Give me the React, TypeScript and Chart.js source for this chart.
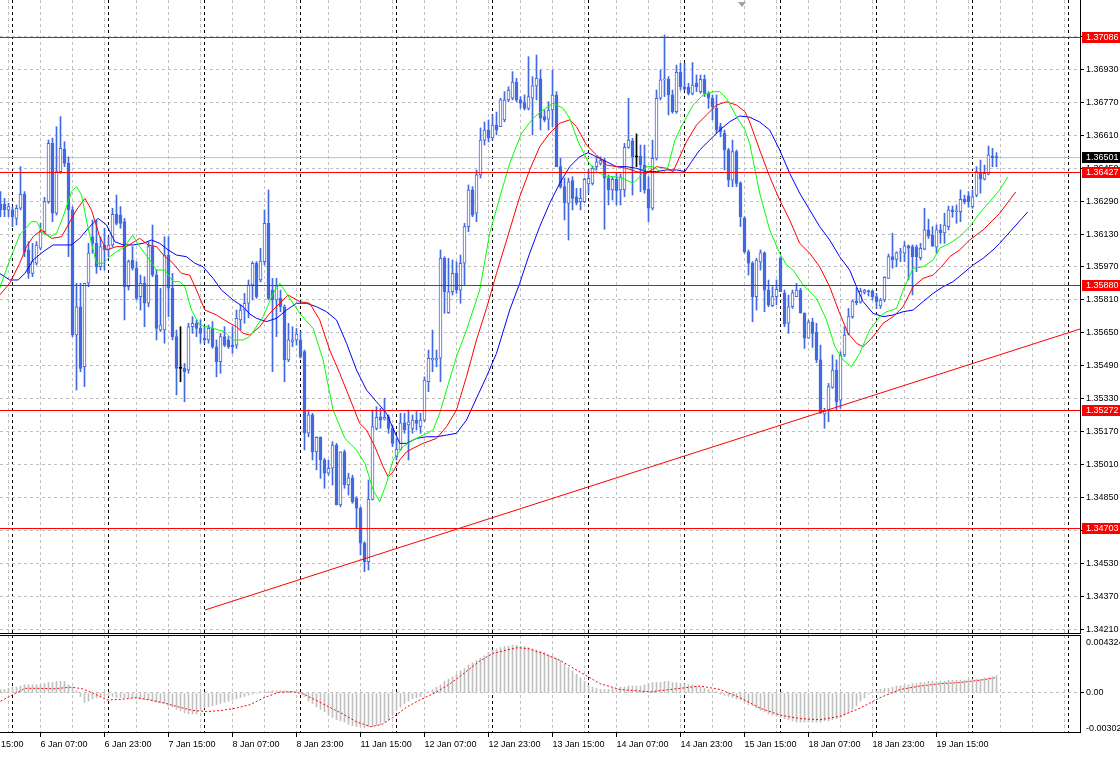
import React, { useEffect, useRef } from 'react';
import { Chart, registerables } from 'chart.js';
Chart.register(...registerables);

// ---------- DATA (H1 bars, index 0 = 5 Jan 21:00) ----------
const opens = [1.36274,1.36274,1.36247,1.36247,1.36206,1.36255,1.36323,1.36053,1.35939,1.35988,
1.36061,1.36141,1.36287,1.36570,1.36231,1.36433,1.36541,1.36473,1.36247,1.35640,
1.35777,1.35486,1.35891,1.36117,1.36085,1.35971,1.36077,1.36053,1.36077,1.36226,
1.36222,1.36190,1.35874,1.36004,1.35964,1.35826,1.35891,1.35794,1.36069,1.35931,
1.35664,1.35664,1.36028,1.35867,1.35632,1.35478,1.35478,1.35470,1.35680,1.35697,
1.35672,1.35624,1.35616,1.35672,1.35583,1.35510,1.35632,1.35616,1.35591,1.35591,
1.35713,1.35761,1.35794,1.35883,1.35988,1.35907,1.35996,1.36182,1.35858,1.35810,
1.35818,1.35777,1.35519,1.35607,1.35616,1.35616,1.35559,1.35163,1.35252,1.35073,
1.35143,1.35033,1.34969,1.34993,1.35106,1.34815,1.35073,1.34912,1.34947,1.34847,
1.34799,1.34629,1.34540,1.34842,1.35187,1.35243,1.35231,1.35243,1.35187,1.35049,
1.35085,1.35214,1.35203,1.35187,1.35227,1.35195,1.35227,1.35413,1.35519,1.35519,
1.35527,1.36012,1.35748,1.35850,1.35939,1.35858,1.35988,1.36166,1.36344,1.36231,
1.36417,1.36586,1.36635,1.36596,1.36659,1.36651,1.36684,1.36781,1.36789,1.36867,
1.36781,1.36768,1.36740,1.36789,1.36849,1.36883,1.36700,1.36687,1.36732,1.36805,
1.36457,1.36360,1.36279,1.36389,1.36311,1.36287,1.36287,1.36373,1.36376,1.36457,
1.36473,1.36486,1.36401,1.36344,1.36396,1.36344,1.36344,1.36551,1.36582,1.36505,
1.36509,1.36465,1.36347,1.36255,1.36498,1.36789,1.36878,1.36881,1.36805,1.36724,
1.36915,1.36845,1.36842,1.36813,1.36862,1.36821,1.36881,1.36813,1.36789,1.36740,
1.36651,1.36619,1.36538,1.36392,1.36530,1.36376,1.36208,1.36044,1.35988,1.35826,
1.35994,1.36039,1.35858,1.35782,1.35826,1.36012,1.35845,1.35697,1.35777,1.35826,
1.35858,1.35745,1.35624,1.35703,1.35653,1.35519,1.35256,1.35272,1.35386,1.35470,
1.35324,1.35543,1.35648,1.35729,1.35805,1.35799,1.35847,1.35854,1.35854,1.35826,
1.35781,1.35810,1.35915,1.36020,1.36007,1.36039,1.36037,1.36073,1.36069,1.36066,
1.36015,1.36057,1.36150,1.36125,1.36066,1.36150,1.36136,1.36166,1.36247,1.36238,
1.36238,1.36299,1.36315,1.36263,1.36319,1.36425,1.36396,1.36421,1.36509,1.36505];

const highs = [1.36336,1.36303,1.36279,1.36263,1.36271,1.36457,1.36336,1.36093,1.36085,1.36093,
1.36182,1.36308,1.36586,1.36595,1.36651,1.36700,1.36578,1.36505,1.36263,1.35891,
1.35891,1.35891,1.36085,1.36198,1.36198,1.36117,1.36158,1.36117,1.36255,1.36319,
1.36263,1.36206,1.36004,1.36069,1.35996,1.35931,1.35923,1.36093,1.36174,1.35955,
1.35867,1.36117,1.36117,1.35939,1.35664,1.35680,1.35502,1.35697,1.35729,1.35713,
1.35713,1.35680,1.35688,1.35705,1.35616,1.35648,1.35680,1.35632,1.35680,1.35761,
1.35786,1.35842,1.35907,1.35996,1.35996,1.36061,1.36247,1.36344,1.35915,1.35915,
1.35858,1.35786,1.35697,1.35680,1.35672,1.35656,1.35567,1.35276,1.35260,1.35146,
1.35146,1.35041,1.35033,1.35122,1.35114,1.35073,1.35082,1.34969,1.34960,1.34855,
1.34806,1.34637,1.34936,1.35276,1.35292,1.35284,1.35333,1.35252,1.35203,1.35138,
1.35260,1.35260,1.35276,1.35252,1.35268,1.35260,1.35437,1.35567,1.35664,1.35567,
1.36053,1.36020,1.36012,1.36004,1.35996,1.36028,1.36182,1.36368,1.36360,1.36441,
1.36645,1.36674,1.36684,1.36708,1.36722,1.36789,1.36821,1.36845,1.36918,1.36886,
1.36797,1.36805,1.36991,1.36894,1.36999,1.36926,1.36732,1.36772,1.36926,1.36821,
1.36498,1.36401,1.36401,1.36408,1.36352,1.36352,1.36401,1.36441,1.36460,1.36505,
1.36505,1.36498,1.36417,1.36408,1.36425,1.36421,1.36570,1.36789,1.36595,1.36616,
1.36562,1.36562,1.36408,1.36586,1.36829,1.36926,1.37096,1.36894,1.36829,1.36950,
1.36959,1.36959,1.36862,1.36962,1.36902,1.36902,1.36902,1.36821,1.36805,1.36805,
1.36668,1.36635,1.36546,1.36586,1.36538,1.36384,1.36214,1.36053,1.35996,1.36012,
1.36053,1.36044,1.35907,1.35874,1.35907,1.36020,1.35858,1.35834,1.35858,1.35891,
1.35867,1.35748,1.35713,1.35721,1.35697,1.35591,1.35284,1.35405,1.35543,1.35519,
1.35559,1.35680,1.35769,1.35810,1.35867,1.35867,1.35862,1.35858,1.35858,1.35842,
1.35818,1.35923,1.36033,1.36134,1.36044,1.36061,1.36093,1.36077,1.36077,1.36077,
1.36085,1.36255,1.36202,1.36166,1.36174,1.36177,1.36231,1.36266,1.36266,1.36271,
1.36344,1.36319,1.36336,1.36344,1.36457,1.36489,1.36465,1.36557,1.36546,1.36525];

const lows = [1.36214,1.36214,1.36214,1.36166,1.36174,1.36247,1.36020,1.35915,1.35923,1.35980,
1.36053,1.36134,1.36279,1.36190,1.36222,1.36425,1.36457,1.36020,1.35632,1.35373,
1.35462,1.35389,1.35874,1.36037,1.35939,1.35955,1.35955,1.36020,1.36069,1.36174,
1.36158,1.35713,1.35858,1.35955,1.35810,1.35761,1.35680,1.35777,1.35923,1.35616,
1.35656,1.35600,1.35729,1.35616,1.35349,1.35413,1.35316,1.35454,1.35648,1.35632,
1.35600,1.35600,1.35600,1.35575,1.35437,1.35454,1.35583,1.35575,1.35551,1.35575,
1.35664,1.35697,1.35723,1.35810,1.35818,1.35897,1.35980,1.35810,1.35462,1.35632,
1.35753,1.35413,1.35510,1.35583,1.35591,1.35527,1.35082,1.35146,1.35033,1.34985,
1.34944,1.34896,1.34960,1.34912,1.34815,1.34806,1.34896,1.34863,1.34823,1.34702,
1.34572,1.34491,1.34499,1.34839,1.35179,1.35187,1.35227,1.35163,1.35098,1.35033,
1.35082,1.35163,1.35033,1.35163,1.35179,1.35163,1.35219,1.35365,1.35462,1.35486,
1.35413,1.35745,1.35745,1.35834,1.35842,1.35794,1.35883,1.36141,1.36214,1.36190,
1.36402,1.36562,1.36577,1.36586,1.36611,1.36651,1.36675,1.36772,1.36781,1.36772,
1.36740,1.36732,1.36732,1.36611,1.36781,1.36635,1.36675,1.36635,1.36651,1.36457,
1.36352,1.36198,1.36101,1.36247,1.36271,1.36247,1.36282,1.36328,1.36368,1.36441,
1.36465,1.36153,1.36271,1.36295,1.36271,1.36271,1.36311,1.36546,1.36319,1.36457,
1.36336,1.36328,1.36190,1.36247,1.36489,1.36781,1.36797,1.36708,1.36716,1.36716,
1.36829,1.36829,1.36805,1.36805,1.36821,1.36813,1.36797,1.36740,1.36684,1.36619,
1.36602,1.36441,1.36360,1.36360,1.36360,1.36166,1.36037,1.35931,1.35704,1.35761,
1.35955,1.35753,1.35777,1.35777,1.35786,1.35850,1.35680,1.35648,1.35769,1.35826,
1.35745,1.35575,1.35624,1.35580,1.35506,1.35260,1.35187,1.35219,1.35381,1.35276,
1.35284,1.35535,1.35640,1.35721,1.35786,1.35794,1.35839,1.35829,1.35810,1.35769,
1.35769,1.35802,1.35915,1.35964,1.35971,1.35996,1.35996,1.35907,1.35834,1.35947,
1.36004,1.36053,1.36109,1.36069,1.36037,1.36085,1.36085,1.36150,1.36211,1.36182,
1.36190,1.36276,1.36260,1.36255,1.36311,1.36328,1.36392,1.36417,1.36457,1.36457];

const closes = [1.36247,1.36247,1.36263,1.36214,1.36255,1.36323,1.36044,1.35939,1.35996,1.36077,
1.36141,1.36287,1.36570,1.36231,1.36433,1.36546,1.36473,1.36247,1.35640,1.35777,
1.35478,1.35891,1.36037,1.36085,1.35971,1.36069,1.36053,1.36077,1.36226,1.36182,
1.36182,1.35874,1.35996,1.35964,1.35818,1.35891,1.35794,1.36069,1.35931,1.35672,
1.35688,1.36028,1.35867,1.35632,1.35478,1.35478,1.35462,1.35680,1.35697,1.35672,
1.35648,1.35616,1.35672,1.35583,1.35510,1.35632,1.35591,1.35583,1.35583,1.35721,
1.35761,1.35794,1.35883,1.35988,1.35826,1.35999,1.36182,1.35818,1.35810,1.35878,
1.35777,1.35519,1.35616,1.35616,1.35645,1.35535,1.35163,1.35252,1.35073,1.35143,
1.35033,1.34969,1.34993,1.35106,1.34815,1.35073,1.34912,1.34947,1.34831,1.34799,
1.34629,1.34540,1.34842,1.35195,1.35240,1.35227,1.35240,1.35187,1.35114,1.35085,
1.35214,1.35179,1.35219,1.35227,1.35211,1.35227,1.35421,1.35527,1.35527,1.35527,
1.36012,1.35850,1.35850,1.35939,1.35858,1.35988,1.36166,1.36344,1.36222,1.36417,
1.36586,1.36635,1.36596,1.36659,1.36635,1.36781,1.36781,1.36829,1.36867,1.36781,
1.36765,1.36740,1.36797,1.36849,1.36886,1.36692,1.36684,1.36732,1.36805,1.36457,
1.36360,1.36282,1.36384,1.36303,1.36282,1.36303,1.36396,1.36401,1.36449,1.36481,
1.36486,1.36401,1.36344,1.36396,1.36340,1.36408,1.36551,1.36586,1.36505,1.36505,
1.36465,1.36344,1.36255,1.36498,1.36789,1.36878,1.36881,1.36805,1.36724,1.36915,
1.36845,1.36833,1.36813,1.36853,1.36845,1.36881,1.36813,1.36789,1.36748,1.36635,
1.36627,1.36538,1.36392,1.36530,1.36376,1.36214,1.36044,1.35988,1.35826,1.36004,
1.36039,1.35858,1.35786,1.35826,1.35862,1.35850,1.35692,1.35777,1.35845,1.35858,
1.35748,1.35624,1.35703,1.35648,1.35519,1.35260,1.35272,1.35389,1.35470,1.35316,
1.35543,1.35640,1.35729,1.35805,1.35797,1.35852,1.35858,1.35850,1.35826,1.35802,
1.35810,1.35920,1.36020,1.36004,1.36039,1.36043,1.36072,1.36061,1.36020,1.36020,
1.36061,1.36150,1.36120,1.36072,1.36150,1.36136,1.36174,1.36247,1.36238,1.36243,
1.36299,1.36287,1.36287,1.36311,1.36433,1.36396,1.36425,1.36514,1.36501,1.36501];

// Alligator lines [bar index, price]
const lips: number[][] = [[-0.2,1.35867],[2.3,1.36004],[4.8,1.36125],[7.75,1.36190],[9,1.36190],[10.65,1.36134],[12.3,1.36117],[14,1.36134],[15.65,1.36214],[17.75,1.36336],[19,1.36360],[20.25,1.36319],[21.65,1.36182],[22.75,1.36085],[24,1.35988],[25.65,1.35988],[27.3,1.36020],[29,1.36044],[31.1,1.36069],[33,1.36125],[34.8,1.36069],[37.3,1.36004],[39,1.35955],[41.1,1.35955],[43.15,1.35899],[44.8,1.35899],[46.1,1.35874],[47.75,1.35761],[49.8,1.35688],[53.15,1.35672],[56.1,1.35656],[58.15,1.35616],[60.65,1.35616],[62.3,1.35632],[65.65,1.35729],[68.15,1.35842],[69.8,1.35891],[71.5,1.35842],[74.8,1.35745],[78.15,1.35672],[80.65,1.35519],[83.15,1.35276],[86.1,1.35138],[89,1.35082],[91.1,1.35017],[93.15,1.34888],[94.8,1.34831],[96.5,1.34920],[98.15,1.35033],[100.65,1.35098],[103.15,1.35130],[105.65,1.35154],[108.15,1.35179],[109.8,1.35260],[111.5,1.35373],[114,1.35535],[116.5,1.35664],[119.8,1.35858],[122.3,1.36134],[124.8,1.36307],[127.3,1.36473],[130.25,1.36619],[133.15,1.36692],[135.65,1.36732],[138.15,1.36765],[140.65,1.36740],[142.3,1.36692],[144.4,1.36578],[146.9,1.36481],[149,1.36433],[151.5,1.36408],[153.6,1.36408],[155.65,1.36400],[158.15,1.36376],[159.8,1.36408],[161.5,1.36457],[163.15,1.36457],[165.65,1.36425],[166.9,1.36457],[168.6,1.36586],[170.65,1.36668],[173.15,1.36756],[175.65,1.36805],[178.15,1.36821],[179.8,1.36821],[181.5,1.36789],[184,1.36700],[186.1,1.36635],[187.3,1.36570],[189.8,1.36328],[192.3,1.36150],[194.8,1.36037],[196.5,1.35980],[198.15,1.35955],[200.65,1.35883],[204,1.35818],[206.5,1.35713],[208.6,1.35583],[210.65,1.35519],[212.75,1.35486],[214.8,1.35551],[217.3,1.35664],[219.8,1.35729],[221.5,1.35753],[224,1.35769],[225.65,1.35858],[228.15,1.35964],[230.65,1.35971],[233.15,1.36004],[234.8,1.36061],[237.3,1.36085],[239.8,1.36117],[242.3,1.36166],[244.8,1.36231],[247.3,1.36287],[249.8,1.36344],[251.8,1.36407]];

const teeth: number[][] = [[-0.2,1.35834],[2.3,1.35891],[4.8,1.35988],[6.5,1.36069],[8.15,1.36117],[10.25,1.36150],[12.75,1.36109],[15.25,1.36117],[16.9,1.36174],[19,1.36247],[21.1,1.36303],[22.75,1.36247],[24.8,1.36117],[26.5,1.36053],[29,1.36069],[31.5,1.36069],[34.8,1.36109],[36.9,1.36077],[39,1.36069],[41.1,1.36020],[42.75,1.35996],[45.25,1.35939],[47.3,1.35931],[49,1.35858],[51.1,1.35761],[54,1.35737],[57.3,1.35697],[59,1.35680],[60.65,1.35648],[62.3,1.35640],[64.8,1.35680],[67.3,1.35745],[71.9,1.35834],[74.8,1.35802],[77.3,1.35794],[79.8,1.35713],[82.3,1.35567],[84.8,1.35454],[87.3,1.35333],[89.8,1.35211],[91.5,1.35179],[93.6,1.35098],[95.65,1.35001],[96.9,1.34952],[98.15,1.34976],[99.8,1.35033],[101.5,1.35073],[103.15,1.35090],[105.65,1.35114],[109,1.35138],[111.5,1.35195],[114,1.35276],[116.5,1.35438],[119,1.35616],[121.5,1.35769],[124,1.35939],[127.3,1.36150],[129.8,1.36311],[132.3,1.36441],[134.8,1.36554],[137.3,1.36619],[139.8,1.36668],[142.3,1.36684],[144,1.36651],[146.5,1.36562],[149,1.36514],[151.5,1.36465],[154,1.36457],[156.5,1.36449],[159,1.36433],[161.5,1.36425],[164,1.36457],[166.5,1.36449],[168.15,1.36433],[169.8,1.36505],[171.5,1.36578],[174,1.36659],[176.5,1.36708],[179,1.36756],[181.5,1.36772],[184,1.36756],[186.1,1.36724],[187.3,1.36674],[189.8,1.36538],[192.3,1.36408],[194.8,1.36295],[197.3,1.36198],[199.8,1.36085],[202.3,1.36037],[204.8,1.35971],[207.3,1.35874],[209.8,1.35745],[211.9,1.35648],[214,1.35600],[215.65,1.35583],[218.15,1.35632],[220.65,1.35697],[223.15,1.35729],[225.65,1.35777],[228.15,1.35874],[230.65,1.35915],[233.15,1.35931],[235.25,1.35971],[237.3,1.36020],[239.8,1.36053],[242.3,1.36101],[245.65,1.36150],[249.8,1.36231],[253.8,1.36334]];

const jaw: number[][] = [[-0.2,1.35939],[2.3,1.35907],[4.4,1.35907],[6.1,1.35939],[8.15,1.36004],[10.65,1.36044],[13.15,1.36077],[15.65,1.36077],[17.75,1.36077],[19.8,1.36109],[22.3,1.36166],[24.4,1.36206],[26.5,1.36174],[28.6,1.36093],[30.65,1.36077],[33.15,1.36077],[35.65,1.36085],[37.75,1.36101],[39.8,1.36085],[41.9,1.36053],[44,1.36028],[46.5,1.36020],[48.6,1.35988],[50.65,1.35971],[53.15,1.35915],[55.25,1.35858],[58.15,1.35810],[60.65,1.35777],[62.3,1.35742],[64,1.35721],[66.5,1.35705],[69,1.35721],[71.5,1.35761],[74,1.35794],[76.5,1.35794],[79,1.35777],[81.5,1.35753],[84,1.35713],[86.5,1.35600],[89,1.35470],[91.5,1.35373],[94,1.35316],[96.5,1.35260],[98.15,1.35187],[99.8,1.35114],[101.5,1.35114],[104,1.35138],[106.5,1.35146],[109,1.35146],[111.5,1.35154],[114,1.35163],[116.5,1.35227],[119,1.35333],[121.5,1.35438],[124,1.35551],[127.3,1.35761],[129.8,1.35891],[132.3,1.36037],[134.8,1.36166],[137.3,1.36279],[139.8,1.36376],[142.3,1.36457],[144.8,1.36505],[146.9,1.36525],[149,1.36505],[151.5,1.36481],[154,1.36457],[156.5,1.36457],[159,1.36449],[161.5,1.36433],[164,1.36433],[166.5,1.36441],[169,1.36441],[171.1,1.36433],[172.75,1.36481],[174.8,1.36538],[177.3,1.36586],[179.8,1.36635],[182.3,1.36675],[184.8,1.36703],[187.3,1.36697],[189.8,1.36674],[192.3,1.36635],[194.8,1.36538],[197.3,1.36425],[199.8,1.36328],[202.3,1.36247],[204.8,1.36166],[207.3,1.36101],[209.8,1.36020],[212.3,1.35955],[214,1.35874],[215.65,1.35802],[218.15,1.35745],[220.65,1.35729],[223.15,1.35737],[225.65,1.35753],[228.15,1.35761],[230.65,1.35802],[233.15,1.35842],[235.65,1.35874],[238.15,1.35899],[240.65,1.35939],[243.15,1.35980],[245.65,1.36012],[248.15,1.36053],[249.8,1.36085],[256.8,1.36237]];

// MACD main (histogram, one value per bar) and signal line [bar index, value]
const macdHist = [0.0003,0.0003,0.0004,0.0005,0.0005,0.0006,0.0007,0.0007,0.0007,0.0007,
0.0007,0.0008,0.0009,0.0009,0.0010,0.0010,0.0010,0.0007,0.0005,0.0002,
-0.0003,-0.0008,-0.0007,-0.0005,-0.0004,-0.0003,-0.00025,-0.00025,-0.0003,-0.0004,
-0.0004,-0.0004,-0.0004,-0.0004,-0.00045,-0.0005,-0.00055,-0.0006,-0.0007,-0.0008,
-0.00085,-0.0009,-0.0011,-0.0012,-0.0014,-0.0015,-0.0017,-0.0018,-0.0018,-0.0018,
-0.0015,-0.0013,-0.0012,-0.0011,-0.0010,-0.0009,-0.0008,-0.0007,-0.0006,-0.0005,
-0.0004,-0.0003,-0.0002,-0.0001,-0.00005,0.0001,0.00012,0.00015,0.0002,0.0002,
0.0002,0.0002,0.00015,0.0001,0.00005,0.0,-0.0003,-0.0007,-0.0009,-0.0012,
-0.0014,-0.0016,-0.0019,-0.0021,-0.0023,-0.0024,-0.0025,-0.0027,-0.0028,-0.0029,
-0.0029,-0.0030,-0.0029,-0.0029,-0.0028,-0.0027,-0.0025,-0.0023,-0.0019,-0.0015,
-0.0012,-0.0009,-0.0007,-0.0005,-0.0004,-0.0003,-0.0001,0.0001,0.0003,0.0005,
0.0007,0.0010,0.0012,0.0014,0.0016,0.0019,0.0021,0.0024,0.0026,0.0028,
0.0030,0.0032,0.0035,0.0037,0.0038,0.0039,0.0040,0.0040,0.0041,0.0041,
0.0040,0.0040,0.0039,0.0038,0.0037,0.0036,0.0035,0.0033,0.0032,0.0030,
0.0028,0.0025,0.0022,0.0019,0.0016,0.0013,0.0010,0.0007,0.0005,0.0004,
0.0003,0.0003,0.0003,0.0004,0.0004,0.0005,0.0005,0.0006,0.0006,0.0006,
0.0006,0.0007,0.0008,0.0009,0.0009,0.0009,0.0010,0.0010,0.0009,0.0009,
0.0008,0.0008,0.0007,0.0007,0.0006,0.0005,0.0004,0.0003,0.0002,0.0001,
-0.0001,-0.0002,-0.0003,-0.0004,-0.0005,-0.0006,-0.0008,-0.0010,-0.0011,-0.0013,
-0.0015,-0.0016,-0.0018,-0.0019,-0.0020,-0.0021,-0.0022,-0.0023,-0.0024,-0.0025,
-0.0025,-0.0025,-0.0025,-0.0025,-0.0025,-0.0025,-0.0024,-0.0024,-0.0023,-0.0022,
-0.0021,-0.0019,-0.0017,-0.0014,-0.0011,-0.0007,-0.0004,-0.0001,0.0001,0.0002,
0.0003,0.0004,0.0004,0.0005,0.0006,0.0006,0.0007,0.0007,0.0008,0.0008,
0.0009,0.0009,0.0010,0.0010,0.0010,0.0010,0.0010,0.0011,0.0011,0.0011,
0.0011,0.0011,0.0012,0.0012,0.0012,0.0012,0.0013,0.0013,0.0014,0.0015];

const macdSignal: number[][] = [[0,-0.0007],[3.4,-0.0001],[6.1,0.0004],[8.9,0.0004],[13.4,0.00037],[17.6,0.0005],[20.4,0.00037],[23.1,0],[26.6,-0.0006],[30.1,-0.00055],[33.9,-0.0004],[37.4,-0.0006],[40.9,-0.00086],[44.6,-0.0012],[48.1,-0.0015],[51.6,-0.0016],[55.1,-0.0015],[58.9,-0.0013],[62.4,-0.001],[65.9,-0.0004],[69.6,0.00006],[73.1,0.00012],[75.9,-0.0001],[78.4,-0.00055],[82.1,-0.0012],[85.6,-0.0018],[89.1,-0.0025],[92.6,-0.0029],[95.4,-0.0027],[98.1,-0.0021],[101.6,-0.0012],[105.1,-0.00055],[108.9,0.00006],[112.4,0.0008],[115.9,0.0017],[119.6,0.0027],[123.1,0.0034],[126.6,0.0037],[129.4,0.0039],[132.1,0.0038],[135.6,0.0034],[139.9,0.0028],[144.9,0.0018],[149.9,0.0008],[154.9,0.0003],[162.4,0.0001],[169.9,0.0004],[174.9,0.0006],[179.9,0.0003],[184.9,-0.0004],[189.9,-0.0013],[194.9,-0.0019],[199.9,-0.0022],[204.9,-0.0023],[209.9,-0.002],[214.9,-0.0013],[219.9,-0.0004],[224.9,0.0003],[229.9,0.0006],[234.9,0.0008],[239.9,0.0009],[244.9,0.0011],[248.6,0.0013]];

const levelLines = [1.37086, 1.36427, 1.35880, 1.35272, 1.34703];
const lastPrice = 1.36501;
const trendLine = [[51.1, 1.34305], [269.875, 1.35669]];

const priceTicks = [1.34210,1.34370,1.34530,1.34690,1.34850,1.35010,1.35170,1.35330,1.35490,1.35650,1.35810,1.35970,1.36130,1.36290,1.36450,1.36610,1.36770,1.36930,1.37090];
const macdTicks = [-0.00302, 0, 0.004324];
const macdTickLabels = ['-0.00302', '0.00', '0.004324'];

const timeIdx = [-6,10,26,42,58,74,90,106,122,138,154,170,186,202,218,234];
const timeLabels = ['5 Jan 15:00','6 Jan 07:00','6 Jan 23:00','7 Jan 15:00','8 Jan 07:00','8 Jan 23:00','11 Jan 15:00','12 Jan 07:00','12 Jan 23:00','13 Jan 15:00','14 Jan 07:00','14 Jan 23:00','15 Jan 15:00','18 Jan 07:00','18 Jan 23:00','19 Jan 15:00'];
const daySeps = [3,27,51,75,99,123,147,171,195,219,243,267];

// ---------- layout constants ----------
const BAR_MIN = -0.125;
const BAR_MAX = 269.875;
const P_MIN = 1.341886;
const P_MAX = 1.37266;
const M_MIN = -0.003439;
const M_MAX = 0.004986;
const SHIFT_MARK = 185.4;
const FONT = '"Liberation Sans", Arial, sans-serif';
const BLUE = '#4169E1';
const GRID = '#C0C0C0';
const gridBars: number[] = [];
for (let v = 2; v < BAR_MAX; v += 8) gridBars.push(v);

function gridAxis(ticks: number[], color: string, dash: number[]) {
  return {
    type: 'linear', min: BAR_MIN, max: BAR_MAX, offset: false, position: 'bottom', display: true,
    afterBuildTicks: (s: any) => { s.ticks = ticks.map((v) => ({ value: v })); },
    afterFit: (s: any) => { s.height = 0; s.paddingLeft = 0; s.paddingRight = 0; },
    ticks: { display: false },
    grid: { color, lineWidth: 1, drawTicks: false, offset: false },
    border: { display: false, dash },
  };
}

const mainFrame = {
  id: 'mainFrame',
  afterDatasetsDraw(chart: any) {
    const { ctx, chartArea: a, scales } = chart;
    ctx.save();
    ctx.beginPath();
    ctx.rect(a.left, a.top, a.right - a.left, a.bottom - a.top);
    ctx.clip();
    ctx.lineWidth = 1;
    ctx.strokeStyle = '#FF0000';
    levelLines.forEach((v) => {
      const py = Math.floor(scales.y.getPixelForValue(v)) + 0.5;
      ctx.beginPath(); ctx.moveTo(a.left, py); ctx.lineTo(a.right, py); ctx.stroke();
    });
    ctx.restore();
  },
  afterDraw(chart: any) {
    const { ctx, chartArea: a, scales } = chart;
    ctx.save();
    ctx.strokeStyle = '#000';
    ctx.lineWidth = 1;
    ctx.beginPath();
    ctx.moveTo(0, a.bottom - 0.5); ctx.lineTo(a.right + 1, a.bottom - 0.5);
    ctx.moveTo(a.right + 0.5, a.top); ctx.lineTo(a.right + 0.5, a.bottom);
    ctx.stroke();
    // chart shift marker
    const sx = Math.round(scales.x.getPixelForValue(SHIFT_MARK));
    ctx.fillStyle = '#A0A0A0';
    ctx.beginPath(); ctx.moveTo(sx - 4, 2); ctx.lineTo(sx + 4, 2); ctx.lineTo(sx, 7); ctx.closePath(); ctx.fill();
    ctx.font = `9px ${FONT}`;
    ctx.textBaseline = 'middle';
    ctx.textAlign = 'left';
    const box = (v: number, bg: string) => {
      const py = Math.floor(scales.y.getPixelForValue(v));
      ctx.fillStyle = bg;
      ctx.fillRect(a.right + 2, py - 5, 38, 11);
      ctx.fillStyle = '#FFFFFF';
      ctx.fillText(v.toFixed(5), a.right + 6, py + 0.5);
    };
    levelLines.forEach((v) => box(v, '#FF0000'));
    box(lastPrice, '#000000');
    ctx.restore();
  },
};

const macdFrame = {
  id: 'macdFrame',
  afterDraw(chart: any) {
    const { ctx, chartArea: a } = chart;
    ctx.save();
    ctx.strokeStyle = '#000';
    ctx.lineWidth = 1;
    ctx.beginPath();
    ctx.moveTo(0, a.top + 0.5); ctx.lineTo(a.right + 1, a.top + 0.5);
    ctx.moveTo(0, a.bottom - 0.5); ctx.lineTo(a.right + 1, a.bottom - 0.5);
    ctx.moveTo(a.right + 0.5, a.top); ctx.lineTo(a.right + 0.5, a.bottom);
    ctx.stroke();
    ctx.restore();
  },
};

function lineDs(pts: number[][], color: string, order: number, dash: number[] = []) {
  return {
    type: 'line', data: pts.map((p) => ({ x: p[0], y: p[1] })), borderColor: color, backgroundColor: color, borderWidth: 1,
    pointRadius: 0, tension: 0, order, borderDash: dash, fill: false,
  };
}

function mainConfig(): any {
  const n = Math.min(opens.length, highs.length, lows.length, closes.length);
  const idx = Array.from({ length: n }, (_, i) => i);
  const bull = idx.map((i) => closes[i] >= opens[i]);
  const doji = idx.map((i) => Math.abs(closes[i] - opens[i]) < 0.000005);
  return {
    type: 'bar',
    data: {
      datasets: [
        lineDs(trendLine, '#FF0000', 0),
        lineDs(lips, '#00FF00', 1),
        lineDs(teeth, '#FF0000', 1),
        lineDs(jaw, '#0000FF', 1),
        {
          type: 'bar', data: idx.map((i) => ({ x: i, y: [opens[i], closes[i]] })),
          backgroundColor: idx.map((i) => (doji[i] ? '#000000' : bull[i] ? '#FFFFFF' : BLUE)),
          borderColor: idx.map((i) => (doji[i] ? '#000000' : BLUE)),
          borderWidth: 1, borderSkipped: false, barThickness: 3, minBarLength: 1, grouped: false, order: 2,
        },
        {
          type: 'bar', data: idx.map((i) => ({ x: i, y: [lows[i], highs[i]] })),
          backgroundColor: idx.map((i) => (doji[i] ? '#000000' : BLUE)),
          borderWidth: 0, barThickness: 1, grouped: false, order: 3,
        },
        lineDs([[BAR_MIN, lastPrice], [BAR_MAX, lastPrice]], GRID, 4),
      ],
    },
    options: {
      responsive: false, animation: false, events: [],
      layout: { padding: 0 },
      plugins: { legend: { display: false }, tooltip: { enabled: false } },
      scales: {
        x: gridAxis(gridBars, GRID, [3, 3]),
        xd: gridAxis(daySeps, '#000000', [3, 3]),
        y: {
          type: 'linear', position: 'right', min: P_MIN, max: P_MAX,
          afterBuildTicks: (s: any) => { s.ticks = priceTicks.map((v) => ({ value: v })); },
          afterFit: (s: any) => { s.width = 40; s.paddingTop = 0; s.paddingBottom = 0; },
          ticks: { callback: (v: number) => v.toFixed(5), color: '#000', font: { family: FONT, size: 9 }, padding: 2, autoSkip: false },
          grid: { color: GRID, lineWidth: 1, drawTicks: true, tickLength: 4, tickColor: '#000', tickBorderDash: [] },
          border: { display: false, dash: [3, 3] },
        },
      },
    },
    plugins: [mainFrame],
  };
}

function macdConfig(): any {
  return {
    type: 'bar',
    data: {
      datasets: [
        lineDs(macdSignal, '#FF0000', 0, [2, 2]),
        { type: 'bar', data: macdHist.map((v, i) => ({ x: i, y: v })), backgroundColor: GRID, borderWidth: 0, barThickness: 1, grouped: false, order: 1 },
      ],
    },
    options: {
      responsive: false, animation: false, events: [],
      layout: { padding: 0 },
      plugins: { legend: { display: false }, tooltip: { enabled: false } },
      scales: {
        x: {
          type: 'linear', min: BAR_MIN, max: BAR_MAX, offset: false, position: 'bottom',
          afterBuildTicks: (s: any) => { s.ticks = timeIdx.map((v) => ({ value: v })); },
          afterFit: (s: any) => { s.height = 24; s.paddingLeft = 0; s.paddingRight = 0; },
          ticks: { callback: (_v: number, i: number) => timeLabels[i], align: 'start', autoSkip: false, maxRotation: 0, minRotation: 0, color: '#000', font: { family: FONT, size: 9 }, padding: 2 },
          grid: { drawOnChartArea: false, drawTicks: true, tickLength: 4, tickColor: '#000', offset: false },
          border: { display: false },
        },
        xg: gridAxis(gridBars, GRID, [3, 3]),
        xd: gridAxis(daySeps, '#000000', [3, 3]),
        y: {
          type: 'linear', position: 'right', min: M_MIN, max: M_MAX,
          afterBuildTicks: (s: any) => { s.ticks = macdTicks.map((v) => ({ value: v })); },
          afterFit: (s: any) => { s.width = 40; s.paddingTop = 0; s.paddingBottom = 0; },
          ticks: { callback: (_v: number, i: number) => macdTickLabels[i], color: '#000', font: { family: FONT, size: 9 }, padding: 2, autoSkip: false },
          grid: {
            color: (c: any) => (c.tick && c.tick.value === 0 ? GRID : 'rgba(0,0,0,0)'),
            tickColor: (c: any) => (c.tick && c.tick.value === 0 ? '#000' : 'rgba(0,0,0,0)'),
            lineWidth: 1, drawTicks: true, tickLength: 4, tickBorderDash: [],
          },
          border: { display: false, dash: [3, 3] },
        },
      },
    },
    plugins: [macdFrame],
  };
}

export default function App() {
  const mainRef = useRef<HTMLCanvasElement>(null);
  const macdRef = useRef<HTMLCanvasElement>(null);
  useEffect(() => {
    document.body.style.margin = '0';
    const main = new Chart(mainRef.current as HTMLCanvasElement, mainConfig());
    const macd = new Chart(macdRef.current as HTMLCanvasElement, macdConfig());
    return () => { main.destroy(); macd.destroy(); };
  }, []);
  return (
    <div style={{ position: 'relative', width: 1120, height: 757, background: '#FFFFFF', overflow: 'hidden' }}>
      <canvas ref={mainRef} width={1120} height={634} style={{ position: 'absolute', left: 0, top: 0 }} />
      <canvas ref={macdRef} width={1120} height={122} style={{ position: 'absolute', left: 0, top: 635 }} />
    </div>
  );
}
